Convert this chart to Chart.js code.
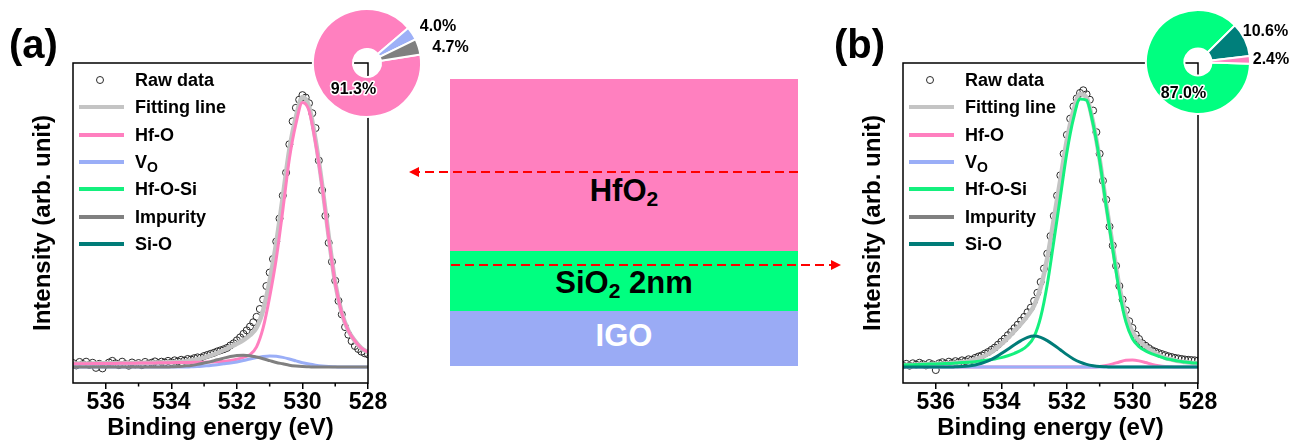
<!DOCTYPE html>
<html lang="en">
<head>
<meta charset="utf-8">
<title>O 1s XPS of the HfO2 / SiO2 / IGO stack</title>
<script src="https://cdn.jsdelivr.net/npm/chart.js@4.4.1/dist/chart.umd.min.js"></script>
<style>
  html, body { margin: 0; padding: 0; background: #fff; }
  body { position: relative; width: 1307px; height: 445px; overflow: hidden;
         font-family: 'Liberation Sans', Arial, Helvetica, sans-serif; color: #000; }
  canvas { position: absolute; }
  .lg-line { position: absolute; height: 4px; }
  .lg-dot { position: absolute; width: 6px; height: 6px; border: 1px solid #2a2a2a; border-radius: 50%; }
  .lg-text { position: absolute; font-size: 18px; font-weight: bold; line-height: 20px; height: 20px; white-space: nowrap; }
  .lg-text sub { font-size: 14px; line-height: 0; vertical-align: -4px; }
  .layer { position: absolute; left: 450px; width: 348px; }
  .layer-label { position: absolute; left: 450px; width: 348px; text-align: center;
                 font-size: 31px; font-weight: bold; line-height: 31px; height: 31px; white-space: nowrap; }
  .layer-label sub { font-size: 21px; line-height: 0; vertical-align: -5px; }
  .tag { position: absolute; font-size: 40px; font-weight: bold; line-height: 40px; }
  svg.arrows { position: absolute; left: 0; top: 0; }
</style>
</head>
<body>
<canvas id="xpsA" width="400" height="445" style="left:0;top:0"></canvas>
<canvas id="xpsB" width="400" height="445" style="left:830px;top:0"></canvas>

<div class="tag" style="left:9px;top:24px">(a)</div>
<div class="tag" style="left:834px;top:24px">(b)</div>

<div class="layer" style="top:79px;height:172px;background:#ff80bf"></div>
<div class="layer" style="top:251px;height:60px;background:#00ff80"></div>
<div class="layer" style="top:311px;height:55px;background:#9aabf5"></div>
<div class="layer-label" style="top:175px">HfO<sub>2</sub></div>
<div class="layer-label" style="top:267px">SiO<sub>2</sub> 2nm</div>
<div class="layer-label" style="top:320px;color:#fff">IGO</div>

<svg class="arrows" width="1307" height="445">
  <line x1="798" y1="172" x2="418" y2="172" stroke="#ff0000" stroke-width="2" stroke-dasharray="9 5"/>
  <polygon points="409,172 419,167 419,177" fill="#ff0000"/>
  <line x1="451" y1="265" x2="832" y2="265" stroke="#ff0000" stroke-width="2" stroke-dasharray="9 5"/>
  <polygon points="841,265 831,260 831,270" fill="#ff0000"/>
</svg>

<canvas id="pieA" width="180" height="130" style="left:300px;top:0"></canvas>
<canvas id="pieB" width="177" height="130" style="left:1131px;top:0"></canvas>

<script>
const FONT = "'Liberation Sans', Arial, Helvetica, sans-serif";

// Binding energy grid of the fitted curves (eV)
const fitEnergy = [537.0, 536.8, 536.6, 536.4, 536.2, 536.0, 535.8, 535.6, 535.4, 535.2,
                   535.0, 534.8, 534.6, 534.4, 534.2, 534.0, 533.8, 533.6, 533.4, 533.2,
                   533.0, 532.8, 532.6, 532.4, 532.2, 532.0, 531.8, 531.6, 531.4, 531.2,
                   531.0, 530.8, 530.6, 530.4, 530.2, 530.0, 529.8, 529.6, 529.4, 529.2,
                   529.0, 528.8, 528.6, 528.4, 528.2, 528.0];

// Binding energy of the measured points (eV)
const rawEnergy = [537.0, 536.9, 536.8, 536.7, 536.6, 536.5, 536.4, 536.3, 536.2, 536.1,
                   536.0, 535.9, 535.8, 535.7, 535.6, 535.5, 535.4, 535.3, 535.2, 535.1,
                   535.0, 534.9, 534.8, 534.7, 534.6, 534.5, 534.4, 534.3, 534.2, 534.1,
                   534.0, 533.9, 533.8, 533.7, 533.6, 533.5, 533.4, 533.3, 533.2, 533.1,
                   533.0, 532.9, 532.8, 532.7, 532.6, 532.5, 532.4, 532.3, 532.2, 532.1,
                   532.0, 531.9, 531.8, 531.7, 531.6, 531.5, 531.4, 531.3, 531.2, 531.1,
                   531.0, 530.9, 530.8, 530.7, 530.6, 530.5, 530.4, 530.3, 530.2, 530.1,
                   530.0, 529.9, 529.8, 529.7, 529.6, 529.5, 529.4, 529.3, 529.2, 529.1,
                   529.0, 528.9, 528.8, 528.7, 528.6, 528.5, 528.4, 528.3, 528.2, 528.1,
                   528.0];

// (a) HfO2 bulk
const rawA = [1.5, 0.6, 1.9, 1.1, 2.0, 0.8, 1.6, -0.3, 1.2, -0.5,
              0.9, 1.7, 2.3, 1.4, 0.7, 2.0, 1.1, 0.5, 1.7, 1.0,
              1.5, 0.7, 1.9, 1.2, 1.6, 2.1, 1.4, 2.0, 1.7, 2.3,
              1.8, 2.5, 2.1, 2.7, 2.4, 3.0, 2.8, 3.3, 3.6, 3.5,
              4.1, 4.5, 4.9, 5.3, 5.8, 6.2, 6.6, 7.1, 8.0, 8.8,
              9.9, 11.0, 12.3, 13.6, 15.0, 16.6, 18.6, 21.5, 25, 30,
              35, 40, 46.5, 55, 63.5, 72, 82.5, 91, 96, 99,
              100.7, 99.8, 97.7, 94, 88.5, 76.5, 65.5, 56, 46, 39,
              32, 24.5, 19.5, 14.8, 12, 9.6, 7.8, 6.7, 5.7, 5.1,
              4.7];
const fitA = [1.3, 1.3, 1.3, 1.3, 1.4, 1.4, 1.4, 1.4, 1.5, 1.5,
              1.5, 1.6, 1.6, 1.7, 1.7, 1.8, 1.9, 2.1, 2.4, 2.9,
              3.5, 4.3, 5.2, 6.3, 7.4, 8.6, 10.0, 11.8, 14.6, 21,
              32, 46, 63, 80.5, 92.5, 100, 96.5, 84, 67.5, 48.5,
              31.2, 20.1, 13.5, 9.7, 7.0, 5.5];
const hfoA = [1.2, 1.2, 1.2, 1.3, 1.3, 1.3, 1.3, 1.4, 1.4, 1.4,
              1.5, 1.5, 1.5, 1.6, 1.6, 1.6, 1.7, 1.7, 1.7, 1.8,
              1.8, 1.9, 2.0, 2.1, 2.4, 2.9, 3.6, 4.6, 7.5, 14.5,
              26, 40, 58, 77, 90, 98, 95, 83, 67, 48,
              31, 20, 13.5, 9.7, 7.0, 5.5];
const voA = [0, 0, 0, 0, 0, 0, 0, 0, 0, 0,
             0, 0, 0, 0, 0, 0, 0, 0, 0.1, 0.2,
             0.4, 0.6, 0.9, 1.2, 1.5, 1.9, 2.4, 3.0, 3.5, 3.9,
             4.1, 4.0, 3.6, 3.0, 2.3, 1.6, 1.1, 0.7, 0.4, 0.2,
             0.1, 0, 0, 0, 0, 0];
const impA = [0, 0, 0, 0, 0, 0, 0, 0, 0, 0,
              0, 0, 0, 0, 0, 0.1, 0.2, 0.4, 0.6, 1.0,
              1.5, 2.0, 2.7, 3.3, 3.9, 4.3, 4.4, 4.2, 3.7, 3.1,
              2.4, 1.7, 1.2, 0.7, 0.4, 0.2, 0.1, 0, 0, 0,
              0, 0, 0, 0, 0, 0];

// (b) HfO2 / SiO2 interface
const rawB = [0.6, 1.2, 0.5, 1.4, 0.9, 1.6, 1.1, 0.6, 1.5, 1.0,
              -1.1, 1.4, 1.8, 1.2, 2.0, 1.5, 2.2, 1.8, 2.5, 2.2,
              2.9, 2.7, 3.4, 3.9, 4.3, 5.0, 5.6, 6.4, 7.2, 8.3,
              9.4, 10.5, 11.8, 13.0, 14.4, 15.7, 17.2, 18.6, 20.3, 22.0,
              24.5, 27.5, 31.5, 36.5, 42, 48.5, 56, 63.5, 71, 79,
              86, 92, 96.5, 99.5, 101.5, 102.5, 101, 99, 95, 87,
              79, 69, 62, 52, 45, 37.5, 30, 25, 21, 17,
              14.5, 12, 10.4, 8.8, 7.9, 7.0, 6.2, 5.7, 5.2, 4.8,
              4.4, 4.0, 3.7, 3.4, 3.2, 3.0, 2.8, 2.7, 2.6, 2.5,
              2.4];
const fitB = [0.8, 0.85, 0.95, 1.0, 1.1, 1.15, 1.25, 1.35, 1.6, 1.85,
              2.2, 2.8, 3.7, 4.9, 6.5, 8.5, 10.8, 13.4, 16.0, 19.0,
              22.8, 29.5, 40.3, 54.7, 69.4, 84.1, 95, 101.1, 99.8, 90.5,
              76.9, 60.2, 44.7, 29.9, 19.2, 13.1, 9.9, 7.7, 5.9, 4.5,
              3.4, 2.8, 2.2, 1.9, 1.6, 1.4];
const hfoB = [0, 0, 0, 0, 0, 0, 0, 0, 0, 0,
              0, 0, 0, 0, 0, 0, 0, 0, 0, 0,
              0, 0, 0, 0, 0, 0, 0, 0, 0, 0,
              0.2, 0.6, 1.2, 1.9, 2.5, 2.6, 2.3, 1.7, 1.0, 0.5,
              0.2, 0.1, 0, 0, 0, 0];
const hfosiB = [0.8, 0.85, 0.95, 1.0, 1.1, 1.15, 1.25, 1.35, 1.5, 1.65,
                1.8, 2.0, 2.3, 2.6, 3.0, 3.5, 4.2, 5.1, 6.2, 8.0,
                11.3, 18.5, 30.5, 46.5, 63, 79.5, 92, 99.3, 98.8, 90,
                76.5, 59.5, 43.5, 28, 16.7, 10.5, 7.6, 6.0, 4.9, 4.0,
                3.2, 2.7, 2.2, 1.9, 1.6, 1.4];
const sioB = [0, 0, 0, 0, 0, 0, 0, 0, 0.1, 0.2,
              0.4, 0.8, 1.4, 2.3, 3.5, 5.0, 6.6, 8.3, 9.8, 11.0,
              11.5, 11.0, 9.8, 8.2, 6.4, 4.6, 3.0, 1.8, 1.0, 0.5,
              0.2, 0.1, 0, 0, 0, 0, 0, 0, 0, 0,
              0, 0, 0, 0, 0, 0];
const voBEnergy = [537.0, 528.0];
const voB = [0, 0];

// Peak area fractions (%)
const pieALabels = ['Hf-O', 'VO', 'Impurity'];
const pieAValues = [91.3, 4.0, 4.7];
const pieBLabels = ['Hf-O-Si', 'Si-O', 'Hf-O'];
const pieBValues = [87.0, 10.6, 2.4];

// Axis
const energyMin = 528, energyMax = 537, energyStep = 2;

const C = {
  fit: '#c4c4c4', hfo: '#ff7fbf', vo: '#9aaef7', hfosi: '#14f07e',
  imp: '#808080', sio: '#007c78', raw: '#2a2a2a'
};
const PIE = { hfo: '#ff80bf', vo: '#9db0f7', imp: '#808080', hfosi: '#00ff80', sio: '#007f7b' };

const xy = (xs, ys) => ys.map((v, i) => ({ x: xs[i], y: v }));

// Closed box around the plotting area plus minor ticks on the energy axis
const framePlugin = {
  id: 'frame',
  afterDraw(chart) {
    const { ctx, chartArea: a } = chart;
    const xs = chart.scales.x;
    ctx.save();
    ctx.strokeStyle = '#000';
    ctx.lineWidth = 1.5;
    ctx.strokeRect(a.left, a.top, a.right - a.left, a.bottom - a.top);
    ctx.beginPath();
    for (let v = energyMin + 1; v < energyMax; v += energyStep) {
      const px = xs.getPixelForValue(v);
      ctx.moveTo(px, a.bottom);
      ctx.lineTo(px, a.bottom + 3.5);
    }
    ctx.stroke();
    ctx.restore();
  }
};

function makeSpectrum(id, series) {
  const n = series.length;
  const datasets = series.map((s, i) => {
    const base = { label: s.label, data: xy(s.x, s.y), order: n - i };
    if (s.kind === 'point') {
      return Object.assign(base, {
        showLine: false, pointRadius: 3.5, pointBorderWidth: 1,
        pointBorderColor: C.raw, pointBackgroundColor: 'rgba(255,255,255,0)'
      });
    }
    return Object.assign(base, {
      borderColor: s.color, borderWidth: s.width, pointRadius: 0,
      fill: false, cubicInterpolationMode: 'monotone'
    });
  });
  return new Chart(document.getElementById(id), {
    type: 'line',
    data: { datasets },
    options: {
      responsive: false, animation: false, devicePixelRatio: 1,
      layout: { padding: { left: 0, top: 63, right: 32, bottom: 0 } },
      plugins: { legend: { display: false }, tooltip: { enabled: false } },
      scales: {
        x: {
          type: 'linear', min: energyMin, max: energyMax, reverse: true,
          afterFit: s => { s.height = 62; },
          ticks: { stepSize: energyStep, includeBounds: false, padding: 0, color: '#000',
                   maxRotation: 0, autoSkip: false,
                   font: { family: FONT, size: 23, weight: 'bold' } },
          grid: { display: true, drawOnChartArea: false, drawTicks: true, tickLength: 6,
                  color: '#000', lineWidth: 1.5 },
          border: { display: false },
          title: { display: true, text: 'Binding energy (eV)', color: '#000',
                   font: { family: FONT, size: 24, weight: 'bold' },
                   padding: { top: 0, bottom: 2.6 } }
        },
        y: {
          type: 'linear', min: -5.9, max: 112.6,
          afterFit: s => { s.width = 73; },
          ticks: { display: false },
          grid: { display: false },
          border: { display: false },
          title: { display: true, text: 'Intensity (arb. unit)', color: '#000',
                   font: { family: FONT, size: 24, weight: 'bold' },
                   padding: { top: 28.6, bottom: 0 } }
        }
      }
    },
    plugins: [framePlugin]
  });
}

makeSpectrum('xpsA', [
  { label: 'Raw data', x: rawEnergy, y: rawA, kind: 'point' },
  { label: 'Fitting line', x: fitEnergy, y: fitA, color: C.fit, width: 4.5 },
  { label: 'Hf-O', x: fitEnergy, y: hfoA, color: C.hfo, width: 3 },
  { label: 'VO', x: fitEnergy, y: voA, color: C.vo, width: 3 },
  { label: 'Impurity', x: fitEnergy, y: impA, color: C.imp, width: 3 }
]);

makeSpectrum('xpsB', [
  { label: 'Raw data', x: rawEnergy, y: rawB, kind: 'point' },
  { label: 'Fitting line', x: fitEnergy, y: fitB, color: C.fit, width: 4.5 },
  { label: 'Hf-O', x: fitEnergy, y: hfoB, color: C.hfo, width: 3 },
  { label: 'VO', x: voBEnergy, y: voB, color: C.vo, width: 3 },
  { label: 'Hf-O-Si', x: fitEnergy, y: hfosiB, color: C.hfosi, width: 3 },
  { label: 'Si-O', x: fitEnergy, y: sioB, color: C.sio, width: 3 }
]);

// Legend inside each spectrum box
const legendEntries = [
  { text: 'Raw data', kind: 'point' },
  { text: 'Fitting line', color: C.fit },
  { text: 'Hf-O', color: C.hfo },
  { text: 'V', sub: 'O', color: C.vo },
  { text: 'Hf-O-Si', color: C.hfosi },
  { text: 'Impurity', color: C.imp },
  { text: 'Si-O', color: C.sio }
];

function buildLegend(frameLeft) {
  legendEntries.forEach((e, k) => {
    const y = 80 + 27.33 * k;
    if (e.kind === 'point') {
      const d = document.createElement('div');
      d.className = 'lg-dot';
      d.style.left = (frameLeft + 27 - 4) + 'px';
      d.style.top = (y - 4) + 'px';
      document.body.appendChild(d);
    } else {
      const l = document.createElement('div');
      l.className = 'lg-line';
      l.style.left = (frameLeft + 6) + 'px';
      l.style.width = '45px';
      l.style.top = (y - 2) + 'px';
      l.style.background = e.color;
      document.body.appendChild(l);
    }
    const t = document.createElement('div');
    t.className = 'lg-text';
    t.style.left = (frameLeft + 62) + 'px';
    t.style.top = (y - 10) + 'px';
    t.appendChild(document.createTextNode(e.text));
    if (e.sub) {
      const s = document.createElement('sub');
      s.textContent = e.sub;
      t.appendChild(s);
    }
    document.body.appendChild(t);
  });
}
buildLegend(73);
buildLegend(903);

// Percentage labels next to the doughnut slices
const sliceLabelPlugin = {
  id: 'sliceLabels',
  afterDraw(chart, args, opts) {
    const { ctx } = chart;
    const meta = chart.getDatasetMeta(0);
    const cx = meta.data[0].x, cy = meta.data[0].y;
    const values = chart.data.datasets[0].data;
    ctx.save();
    ctx.font = `bold 16px ${FONT}`;
    ctx.textAlign = 'center';
    ctx.textBaseline = 'middle';
    ctx.lineJoin = 'round';
    values.forEach((v, i) => {
      const [dx, dy] = opts.offsets[i];
      const txt = v.toFixed(1) + '%';
      ctx.strokeStyle = '#fff';
      ctx.lineWidth = 3;
      ctx.strokeText(txt, cx + dx, cy + dy);
      ctx.fillStyle = '#000';
      ctx.fillText(txt, cx + dx, cy + dy);
    });
    ctx.restore();
  }
};

function makePie(id, labels, values, colors, rotation, radius, padding, offsets) {
  return new Chart(document.getElementById(id), {
    type: 'doughnut',
    data: { labels, datasets: [{ data: values, backgroundColor: colors,
                                 borderColor: '#fff', borderWidth: 2 }] },
    options: {
      responsive: false, animation: false, devicePixelRatio: 1,
      rotation, radius, cutout: '26%',
      layout: { padding },
      plugins: { legend: { display: false }, tooltip: { enabled: false },
                 sliceLabels: { offsets } }
    },
    plugins: [sliceLabelPlugin]
  });
}

makePie('pieA', pieALabels, pieAValues, [PIE.hfo, PIE.vo, PIE.imp], 81, 54,
        { left: 0, top: 0, right: 46, bottom: 4 },
        [[-13.5, 26.5], [71, -36], [83.5, -15]]);
makePie('pieB', pieBLabels, pieBValues, [PIE.hfosi, PIE.sio, PIE.hfo], 92, 52,
        { left: 0, top: 0, right: 43, bottom: 6 },
        [[-14.5, 31.5], [67.5, -30.5], [73, -2.5]]);
</script>
</body>
</html>
